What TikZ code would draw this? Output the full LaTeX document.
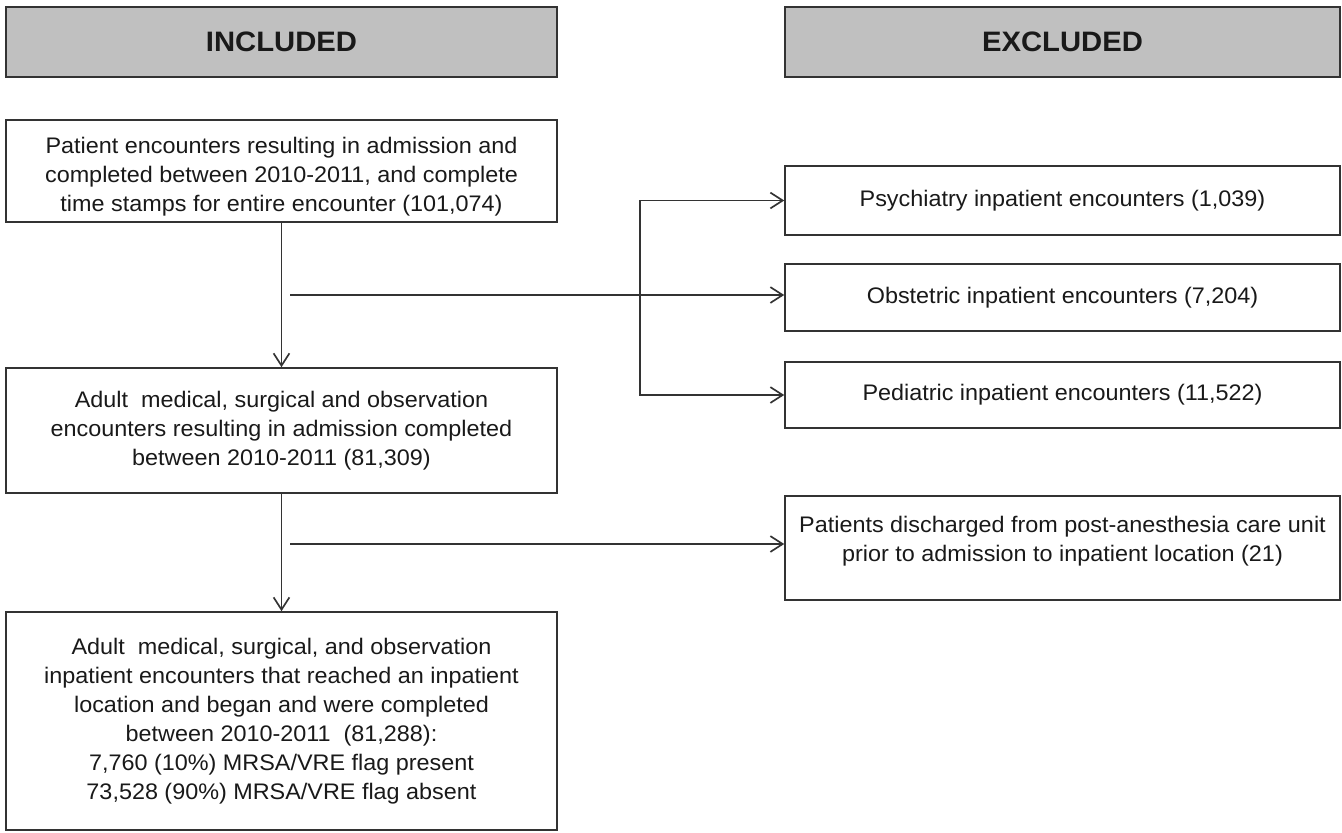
\documentclass[tikz,border=0pt]{standalone}
\usepackage{fontspec}
\setmainfont{Liberation Sans}[FakeStretch=1.04]
\usetikzlibrary{arrows.meta,positioning}
\definecolor{headgray}{HTML}{C0C0C0}
\definecolor{linegray}{HTML}{333333}
\begin{document}
\begin{tikzpicture}[x=0.02cm,y=-0.02cm,
    box/.style={draw=linegray,line width=0.95pt,align=center,inner sep=2pt,
      text=black!90,font=\fontsize{12.8}{16.5}\selectfont},
    header/.style={box,fill=headgray,minimum width=11.02cm,minimum height=1.4cm,
      font=\fontsize{16}{19}\selectfont\bfseries},
    flow/.style={draw=linegray,line width=0.95pt,-{Straight Barb[length=7pt,width=9pt]}}]
    \useasboundingbox (0,0) rectangle (1342,832);
    \node(Included)  [header]                                               at (281.5,42)   {INCLUDED};
    \node(Excluded)  [header,minimum width=11.1cm]                          at (1062.5,42)  {EXCLUDED};
    \node(Encounters)[box,minimum width=11.02cm,minimum height=2.04cm]      at (281.5,171)
      {\strut\\[-12pt]Patient encounters resulting in admission and\\completed between 2010-2011, and complete\\time stamps for entire encounter (101,074)};
    \node(Adult)     [box,minimum width=11.02cm,minimum height=2.5cm]       at (281.5,430.5)
      {Adult~ medical, surgical and observation\\encounters resulting in admission completed\\between 2010-2011 (81,309)};
    \node(Inpatient) [box,minimum width=11.02cm,minimum height=4.36cm]      at (281.5,721)
      {Adult~ medical, surgical, and observation\\inpatient encounters that reached an inpatient\\location and began and were completed\\between 2010-2011~ (81,288):\\7,760 (10\%) MRSA/VRE flag present\\73,528 (90\%) MRSA/VRE flag absent};
    \node(Psychiatry)[box,minimum width=11.1cm,minimum height=1.38cm]       at (1062.5,200.5) {Psychiatry inpatient encounters (1,039)};
    \node(Obstetric) [box,minimum width=11.1cm,minimum height=1.34cm]       at (1062.5,297.5) {Obstetric inpatient encounters (7,204)};
    \node(Pediatric) [box,minimum width=11.1cm,minimum height=1.32cm]       at (1062.5,395)   {Pediatric inpatient encounters (11,522)};
    \node(Pacu)      [box,minimum width=11.1cm,minimum height=2.08cm]       at (1062.5,548)
      {Patients discharged from post-anesthesia care unit\\prior to admission to inpatient location (21)\\[-11pt]\strut};
    \coordinate(TapA)  at (290,295);
    \coordinate(Split) at (640,295);
    \coordinate(TapB)  at (290,544);
    \draw[flow] (Encounters) -- (Adult);
    \draw[flow] (TapA)       -- (TapA -| Obstetric.west);
    \draw[flow] (Split)      |- (Psychiatry);
    \draw[flow] (Split)      |- (Pediatric);
    \draw[flow] (Adult)      -- (Inpatient);
    \draw[flow] (TapB)       -- (TapB -| Pacu.west);
  \end{tikzpicture}
\end{document}
